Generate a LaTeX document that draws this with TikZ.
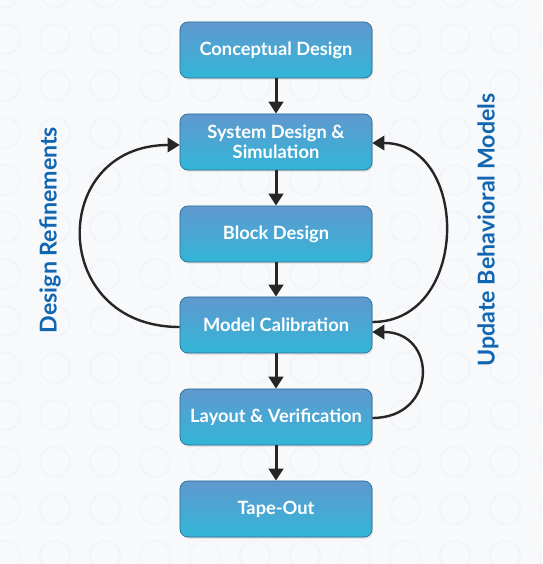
\documentclass[tikz,border=0pt]{standalone}
\usepackage{fontspec}
\setmainfont{Lato}
\usetikzlibrary{arrows.meta,shadows}
\definecolor{boxtop}{RGB}{96,152,206}
\definecolor{boxbot}{RGB}{50,182,216}
\definecolor{boxedge}{RGB}{40,110,150}
\definecolor{labelblue}{RGB}{16,102,178}
\definecolor{paper}{RGB}{248,249,251}
\definecolor{ring}{RGB}{243,244,247}

\begin{document}
\begin{tikzpicture}[x=0.25mm,y=0.25mm,
    stage/.style={draw=boxedge, line width=0.5pt, rounded corners=2mm,
        top color=boxtop, bottom color=boxbot, text=white,
        minimum width=48mm, minimum height=14mm, align=center,
        font=\bfseries\fontsize{13}{15}\selectfont,
        drop shadow={shadow xshift=0.3mm, shadow yshift=-0.4mm, opacity=0.25}},
    flow/.style={line width=0.75mm, draw=black!85, -{Triangle[width=3.6mm,length=3mm]}},
    loop/.style={line width=0.6mm, draw=black!85, -{Triangle[width=3.6mm,length=3mm]}},
    sidelabel/.style={rotate=90, text=labelblue, font=\bfseries\fontsize{16.5}{18}\selectfont}]
        \useasboundingbox (0,0) rectangle (542,564);
        % background
        \begin{scope}
            \clip (0,0) rectangle (542,564);
            \fill[paper] (0,0) rectangle (542,564);
            \foreach \i in {0,...,11}
                \foreach \j in {0,...,12}
                    \draw[ring, line width=0.4mm] (\i*50+5,\j*47+8) circle (15);
        \end{scope}

        \node[stage] (cd) at (276,514) {Conceptual Design};
        \node[stage] (sd) at (276,422) {System Design \&\\[-1pt]Simulation};
        \node[stage] (bd) at (276,330) {Block Design};
        \node[stage] (mc) at (276,239) {Model Calibration};
        \node[stage] (lv) at (276,147) {Layout \& Verification};
        \node[stage] (to) at (276,55)  {Tape-Out};

        % Draw the flow
        \draw[flow] (cd) -- (sd);
        \draw[flow] (sd) -- (bd);
        \draw[flow] (bd) -- (mc);
        \draw[flow] (mc) -- (lv);
        \draw[flow] (lv) -- (to);

        % feedback loops
        \draw[loop] ([yshift=-0.5mm]mc.west)
              to[out=180, in=180, looseness=1.85] ([yshift=-0.75mm]sd.west);
        \draw[loop] ([yshift=0.75mm]mc.east)
              to[out=0, in=0, looseness=1.4] ([yshift=-0.25mm]sd.east);
        \draw[loop] ([yshift=-0.25mm]lv.east)
              to[out=0, in=0, looseness=1.95] ([yshift=-1.75mm]mc.east);

        \node[sidelabel] (dr) at (50,334)  {Design Refinements};
        \node[sidelabel] (ub) at (488,334) {Update Behavioral Models};
    \end{tikzpicture}
\end{document}
